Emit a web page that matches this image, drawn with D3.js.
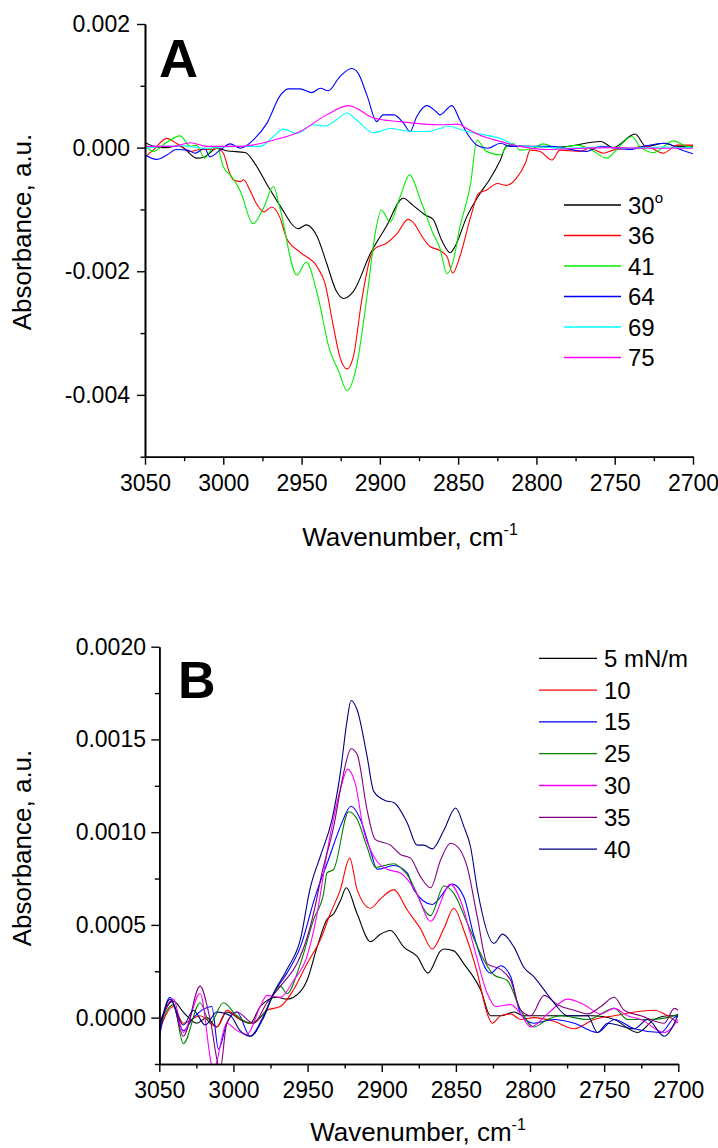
<!DOCTYPE html>
<html>
<head>
<meta charset="utf-8">
<script src="https://cdn.jsdelivr.net/npm/d3@7"></script>
<style>
  body { margin: 0; background: #fff; }
  svg { display: block; font-family: "Liberation Sans", Arial, sans-serif; }
</style>
</head>
<body>
<svg id="fig" width="718" height="1148"></svg>
<script>
// ---------- Panel A: spectra vs. angle, [wavenumber, absorbance] ----------
const a30 = [[3050,0.00008],[3044,0.00002],[3037,0],[3028,0.00003],[3017,-0.00017],[3012,-0.00015],[3004,-0.00001],[2998,-0.00005],[2986,-0.00008],[2980,-0.00025],[2972,-0.0006],[2964,-0.00093],[2952,-0.00131],[2947,-0.00125],[2940,-0.00144],[2934,-0.00187],[2928,-0.00231],[2923,-0.00244],[2917,-0.00233],[2906,-0.00171],[2896,-0.00128],[2885,-0.00082],[2879,-0.00093],[2871,-0.00109],[2866,-0.00116],[2860.5,-0.0015],[2855,-0.0017],[2852,-0.0016],[2844.5,-0.00112],[2836,-0.00074],[2830,-0.00052],[2823,-0.0002],[2819,0.00003],[2806,0.00002],[2785,0.00001],[2759,0.0001],[2751,0],[2737,0.00022],[2730,0.00002],[2719,0.00007],[2710,0.00002],[2700,0.00002]];
const a36 = [[3050,-0.00015],[3044.7,-0.00004],[3036,0.00015],[3030,0.00007],[3021,-0.00006],[3015,-0.00003],[3007,-0.00003],[3004,-0.00001],[3000,-0.00009],[2996,-0.00041],[2993.6,-0.00052],[2989,-0.00055],[2987,-0.00052],[2983,-0.00069],[2979,-0.0009],[2974,-0.00104],[2969,-0.00096],[2964,-0.00112],[2959.5,-0.00147],[2951,-0.00169],[2940,-0.00193],[2935,-0.0022],[2930,-0.00285],[2925.5,-0.00339],[2921,-0.00358],[2917,-0.00339],[2911.6,-0.00247],[2906,-0.00177],[2903,-0.00163],[2896,-0.00155],[2889,-0.00139],[2882,-0.00116],[2879,-0.0012],[2873,-0.00144],[2868,-0.0016],[2862,-0.00166],[2857,-0.00177],[2853.5,-0.00203],[2849,-0.00177],[2842,-0.00112],[2837,-0.00074],[2832,-0.00069],[2825,-0.00058],[2819,-0.00061],[2813,-0.0005],[2807,-0.00025],[2804,-0.00004],[2798,-0.00006],[2790,-0.0002],[2785,-0.00004],[2772,-0.00006],[2766,-0.00001],[2757,-0.00009],[2751,-0.00004],[2740,-0.00001],[2730,0.00002],[2719,-0.00009],[2710,0.00004],[2700,0.00004]];
const a41 = [[3050,0.00004],[3044.7,-0.00006],[3037,0.00007],[3027.6,0.00019],[3021,0.00002],[3017,0.00004],[3012,-0.00017],[3007,-0.00001],[3004,0.00002],[3000,-0.00031],[2994.6,-0.00047],[2989,-0.00071],[2981,-0.00123],[2974,-0.00096],[2968,-0.00063],[2964,-0.00096],[2953,-0.00206],[2947,-0.00185],[2940,-0.00236],[2932,-0.00328],[2926.5,-0.0036],[2921,-0.00393],[2915,-0.00355],[2908,-0.00236],[2903,-0.00139],[2899,-0.00101],[2893.5,-0.0012],[2887,-0.00079],[2881,-0.00044],[2874,-0.00085],[2866,-0.00139],[2862,-0.0016],[2857,-0.00204],[2853,-0.00182],[2849,-0.0013],[2842,-0.00058],[2838,0.00012],[2832,-0.00006],[2823,-0.00012],[2819,0.00002],[2815,0.00007],[2810.5,-0.00004],[2802,-0.00001],[2795.6,0.00006],[2787,-0.00001],[2774,0.00004],[2766,-0.00002],[2755,-0.00017],[2747,0.00002],[2739,0.00018],[2734,0.00002],[2725,-0.00008],[2712.6,0.00011],[2704,0.00002],[2700,0.00001]];
const a64 = [[3050,-0.00012],[3042.5,-0.00019],[3036,-0.00012],[3030,-0.00003],[3023,-0.00004],[3018,-0.00009],[3012,-0.00001],[3008.5,-0.00015],[3002,-0.00004],[2995.7,0.00006],[2989,-0.00001],[2981,0.00012],[2972,0.0004],[2964,0.00083],[2958.5,0.00095],[2951,0.00095],[2943.5,0.00089],[2938,0.00096],[2933,0.00092],[2925.5,0.00115],[2918,0.00128],[2914,0.00121],[2908,0.00083],[2902,0.00042],[2898,0.00053],[2891,0.00053],[2885,0.0004],[2880.7,0.00026],[2876.5,0.0005],[2870,0.00068],[2864,0.00058],[2861.6,0.00053],[2854,0.00068],[2849,0.00045],[2843.5,0.0002],[2838,0.00004],[2831,-0.00001],[2823,0.00007],[2817,0.00002],[2806,0.00002],[2791,0.00002],[2776,-0.00004],[2768,-0.00006],[2759,0.00002],[2749,-0.00001],[2740,-0.00003],[2730,0.00003],[2717,0.00007],[2710,-0.00001],[2700,-0.0001]];
const a69 = [[3050,-0.00001],[3040,0.00002],[3027.6,0.00003],[3010.6,-0.00001],[2993.6,0.00002],[2976.5,0.00002],[2968,0.00018],[2961.7,0.0003],[2953,0.00023],[2942.5,0.00037],[2935,0.00035],[2927.6,0.00045],[2921,0.00056],[2915,0.00045],[2904,0.00024],[2893.5,0.00031],[2883,0.00027],[2870,0.00026],[2861.6,0.00031],[2857,0.00035],[2844.5,0.00026],[2833.9,0.00021],[2823.3,0.00015],[2810.5,0.00002],[2795,0.00001],[2780,-0.00001],[2760,0.00001],[2740,-0.00001],[2720,0.00001],[2700,0]];
const a75 = [[3050,0.00002],[3032,0.00002],[3021,0.00008],[3010.6,0.00002],[2990,0.00002],[2968,0.00012],[2951,0.00026],[2934,0.00053],[2920,0.00068],[2904,0.00048],[2887,0.00042],[2862,0.00037],[2850,0.00038],[2844.5,0.00031],[2836,0.0002],[2823,0.0001],[2810.5,0.00002],[2793,-0.00003],[2770,-0.00001],[2750,0],[2730,-0.00001],[2700,-0.00001]];

const seriesAValues = [a30, a36, a41, a64, a69, a75];
const seriesALabels = ["30", "36", "41", "64", "69", "75"];
const seriesAColors = ["#000000", "#ff0000", "#00ee00", "#0000ff", "#00ffff", "#ff00ff"];

// ---------- Panel B: spectra vs. surface pressure ----------
const b5 = [[3050,-0.00003],[3040.5,0.00009],[3033.8,0.00003],[3024.7,-0.00003],[3018,0],[3011.2,-0.00005],[3004.5,0.00003],[2995.5,-0.00001],[2988.7,-0.00003],[2981.9,0.00006],[2970.7,0.00011],[2963.9,0.0001],[2954.9,0.00014],[2950.4,0.0002],[2943.6,0.00038],[2936.9,0.00053],[2932.4,0.00056],[2927.9,0.00063],[2923.9,0.0007],[2916.6,0.00056],[2907.6,0.00041],[2900.9,0.00045],[2894.1,0.00047],[2885.1,0.00038],[2876.1,0.00033],[2868.9,0.00024],[2860.3,0.00036],[2858.1,0.00037],[2851.4,0.00036],[2844.6,0.00029],[2833.3,0.00015],[2826.6,0.00001],[2819.8,0.00001],[2810.8,0.00003],[2804.1,0.00001],[2792.8,0.00001],[2779.3,0.00001],[2756.8,0.00001],[2743.2,-0.00001],[2727.4,-0.00008],[2716.2,-0.00001],[2707.2,0.00001],[2700,0.00001]];
const b10 = [[3050,-0.00007],[3040.5,0.00006],[3033.8,-0.00003],[3022.5,0.00001],[3011.2,-0.00005],[3004.5,0.00004],[2995.5,-0.00001],[2986.5,-0.00003],[2977.4,0.00004],[2968.4,0.00006],[2959.5,0.00015],[2950.4,0.00029],[2941.4,0.00042],[2934.7,0.00056],[2927.9,0.00069],[2921.6,0.00086],[2916.6,0.00069],[2907.6,0.00059],[2900.9,0.00064],[2891.9,0.00069],[2882.8,0.00058],[2873.9,0.00048],[2865.9,0.00037],[2858.1,0.00048],[2851.4,0.00059],[2844.6,0.00047],[2835.5,0.00024],[2828.8,0.00002],[2825.4,-0.00003],[2819.8,0.00001],[2813,0.00002],[2806.3,-0.00001],[2797.3,0],[2783.8,-0.00002],[2770.3,-0.00006],[2756.8,-0.00001],[2743.2,0.00001],[2729.7,0.00003],[2716.2,0.00004],[2707.2,0.00001],[2700,-0.00003]];
const b15 = [[3050,-0.00011],[3042.8,0.00011],[3033.8,-0.00007],[3027,0],[3014.6,0.00006],[3010.1,-0.00017],[3004.5,-0.00003],[2997.7,0.00003],[2988.7,-0.0001],[2979.7,0.00001],[2973,0.00013],[2963.9,0.00024],[2954.9,0.00038],[2945,0.00065],[2936,0.00085],[2927.9,0.00103],[2920.7,0.00114],[2914.4,0.00107],[2907.6,0.0009],[2903.1,0.0008],[2891.9,0.00082],[2882.8,0.00078],[2878.4,0.00069],[2865.9,0.00061],[2852.4,0.00072],[2844.6,0.00065],[2837.8,0.00044],[2826.6,0.00024],[2819.8,0.00028],[2813,0.00022],[2806.3,0.00002],[2797.3,-0.00003],[2783.8,-0.00001],[2770.3,-0.00003],[2754.5,-0.00008],[2743.2,-0.00001],[2729.7,-0.00006],[2711.7,-0.00008],[2702.7,0],[2700,0.00001]];
const b25 = [[3050,-0.00005],[3040.5,0.00007],[3033.8,-0.00014],[3022.5,0.00008],[3015.7,-0.00003],[3006.8,0.00008],[2997.7,0.00001],[2988.7,-0.00003],[2979.7,0.00002],[2968.4,0.00017],[2963.9,0.00013],[2954.9,0.00029],[2945.9,0.00053],[2939.2,0.00067],[2936.9,0.00078],[2932.4,0.0008],[2922.3,0.00111],[2916.6,0.00107],[2909.9,0.00092],[2904.3,0.00081],[2891.9,0.00083],[2882.8,0.00077],[2867.1,0.00055],[2858.1,0.00071],[2851.4,0.00067],[2842.3,0.00051],[2831.1,0.00031],[2824.3,0.00023],[2815.3,0.0002],[2806.3,0.00004],[2797.3,-0.00005],[2788.2,-0.00001],[2779.3,0.00001],[2761.2,-0.00001],[2743.2,0.00005],[2734.2,-0.00001],[2720.7,-0.00001],[2707.2,0],[2700,0.00002]];
const b30 = [[3050,-0.00005],[3040.5,0.0001],[3033.8,-0.00008],[3022.5,0.00013],[3013.5,-0.00028],[3004.5,-0.00003],[2997.7,-0.00007],[2990.9,-0.00009],[2981.9,0.00006],[2977.4,0.00012],[2968.4,0.00011],[2959.5,0.0002],[2950.4,0.00033],[2943.6,0.00056],[2936.9,0.00089],[2927.9,0.00123],[2923,0.00134],[2917.8,0.00126],[2912.2,0.00101],[2905.4,0.00087],[2896.4,0.0008],[2887.4,0.00078],[2877,0.00068],[2867.1,0.00052],[2853.6,0.00072],[2846.8,0.00063],[2837.8,0.00038],[2828.8,0.00013],[2823.2,0.00006],[2813,0.00007],[2806.3,0.00002],[2799.5,-0.00005],[2788.2,0.00002],[2774.7,0.0001],[2763.5,0.00007],[2752.2,0.00002],[2743.2,0.00005],[2734.2,0.00001],[2725.2,-0.00001],[2709.5,-0.00008],[2700,-0.00001]];
const b35 = [[3050,-0.00005],[3041.6,0.00009],[3033.8,-0.0001],[3022.5,0.00017],[3015.7,-0.00001],[3009,-0.00028],[3004.5,-0.00003],[2997.7,0.00003],[2986.5,-0.00003],[2977.4,0.00008],[2966.2,0.00019],[2957.2,0.00029],[2948.2,0.00049],[2943.6,0.00065],[2941.4,0.00074],[2932.4,0.00103],[2925.7,0.00132],[2920.7,0.00145],[2916.6,0.00142],[2909.9,0.00112],[2904.3,0.00096],[2894.1,0.00093],[2887.4,0.00088],[2880.6,0.00086],[2873.9,0.00076],[2867.1,0.0007],[2860.3,0.00085],[2853.6,0.00094],[2846.8,0.0009],[2842.3,0.00081],[2835.5,0.00054],[2828.8,0.00029],[2819.8,0.00026],[2813,0.0002],[2806.3,0.00004],[2799.5,0.00001],[2790.5,0.00012],[2781.5,0.00007],[2770.3,0.00004],[2761.2,0.00002],[2752.2,0.00006],[2743.2,0.00011],[2736.5,0.00004],[2725.2,0.00001],[2709.5,-0.00003],[2702.7,0.00005],[2700,0.00004]];
const b40 = [[3050,-0.00007],[3042.8,0.0001],[3033.8,-0.00004],[3027,0.00004],[3019,-0.00004],[3011.2,0.00003],[3002,0.00001],[2995.5,-0.00007],[2988.7,-0.0001],[2979.7,0],[2973,0.00013],[2963.9,0.00026],[2954.9,0.00042],[2948.2,0.0007],[2941.4,0.00087],[2933.5,0.00107],[2927.9,0.00132],[2923.4,0.0016],[2920.7,0.00171],[2916.6,0.00166],[2909.9,0.00141],[2905.4,0.00122],[2897.5,0.00117],[2891.9,0.00116],[2882.8,0.00105],[2876.1,0.00093],[2871.6,0.00093],[2865.9,0.00091],[2858.1,0.00101],[2850.2,0.00113],[2844.6,0.00103],[2840.1,0.00092],[2835.5,0.00069],[2824.3,0.0004],[2818.6,0.00045],[2810.8,0.00038],[2804.1,0.00027],[2797.3,0.00022],[2790.5,0.00015],[2783.8,0.00008],[2774.7,0.00001],[2761.2,0.00001],[2754.5,-0.00008],[2747.7,-0.00003],[2729.7,-0.00006],[2720.7,-0.00001],[2709.5,-0.0001],[2700.4,0.00001]];

const seriesBValues = [b5, b10, b15, b25, b30, b35, b40];
const seriesBLabels = ["5 mN/m", "10", "15", "25", "30", "35", "40"];
const seriesBColors = ["#000000", "#ff0000", "#0000ff", "#008000", "#ff00ff", "#800080", "#000080"];

// ---------- Axis ticks ----------
const xMajorTicks = [3050, 3000, 2950, 2900, 2850, 2800, 2750, 2700];
const xMinorTicks = [3025, 2975, 2925, 2875, 2825, 2775, 2725];
const aYMajorTicks = [-0.004, -0.002, 0, 0.002];
const aYMinorTicks = [-0.005, -0.003, -0.001, 0.001];
const bYMajorTicks = [0, 0.0005, 0.001, 0.0015, 0.002];
const bYMinorTicks = [-0.00025, 0.00025, 0.00075, 0.00125, 0.00175];

const svg = d3.select("#fig");

function drawPanel(cfg) {
  const x = d3.scaleLinear().domain([3050, 2700]).range([cfg.left, cfg.right]);
  const y = d3.scaleLinear().domain(cfg.yDomain).range([cfg.bottom, cfg.top]);
  const g = svg.append("g");

  const clipId = "clip-" + cfg.id;
  svg.append("defs").append("clipPath").attr("id", clipId)
    .append("rect")
    .attr("x", cfg.left).attr("y", cfg.top)
    .attr("width", cfg.right - cfg.left).attr("height", cfg.bottom - cfg.top);

  // spectra
  const line = d3.line()
    .x(d => x(d[0]))
    .y(d => y(d[1]))
    .curve(d3.curveMonotoneX);
  const lines = g.append("g").attr("clip-path", `url(#${clipId})`);
  cfg.values.forEach((s, i) => {
    lines.append("path")
      .attr("d", line(s))
      .attr("fill", "none")
      .attr("stroke", cfg.colors[i])
      .attr("stroke-width", 1.1)
      .attr("stroke-linejoin", "round");
  });

  // x axis
  const xAxis = g.append("g").attr("transform", `translate(0,${cfg.bottom})`);
  xAxis.call(d3.axisBottom(x).tickValues(xMinorTicks).tickSize(4.5).tickSizeOuter(0).tickFormat(""));
  xAxis.append("g").call(d3.axisBottom(x).tickValues(xMajorTicks).tickSize(8).tickSizeOuter(0)
    .tickPadding(10).tickFormat(d3.format("d")));
  // y axis
  const yAxis = g.append("g").attr("transform", `translate(${cfg.left},0)`);
  yAxis.call(d3.axisLeft(y).tickValues(cfg.yMinor).tickSize(4.5).tickSizeOuter(0).tickFormat(""));
  yAxis.append("g").call(d3.axisLeft(y).tickValues(cfg.yMajor).tickSize(8).tickSizeOuter(0)
    .tickPadding(cfg.yPad).tickFormat(d => d.toFixed(cfg.digits)));

  g.selectAll(".domain").attr("stroke", "#000").attr("stroke-width", 1.6);
  g.selectAll(".tick line").attr("stroke", "#000").attr("stroke-width", 1.4);
  g.selectAll(".tick text").attr("font-size", 23).attr("fill", "#000")
    .attr("font-family", "'Liberation Sans', Arial, sans-serif");

  // axis titles
  const xt = g.append("text")
    .attr("x", cfg.xTitleX).attr("y", cfg.xTitleY)
    .attr("text-anchor", "middle").attr("font-size", 26).attr("fill", "#000");
  xt.append("tspan").text("Wavenumber, cm");
  xt.append("tspan").attr("font-size", 16).attr("dy", -11).text("-1");

  g.append("text")
    .attr("transform", `translate(${cfg.yTitleX},${cfg.yTitleY}) rotate(-90)`)
    .attr("text-anchor", "middle").attr("font-size", 26).attr("fill", "#000")
    .text("Absorbance, a.u.");

  // panel letter
  g.append("text")
    .attr("x", cfg.letterX).attr("y", cfg.letterY)
    .attr("font-size", cfg.letterSize).attr("font-weight", "bold").attr("fill", "#000")
    .text(cfg.id);

  // legend
  const lg = g.append("g");
  cfg.labels.forEach((lab, i) => {
    const ly = cfg.legendY + i * cfg.legendStep;
    lg.append("line")
      .attr("x1", cfg.legendX).attr("x2", cfg.legendX + cfg.legendLen)
      .attr("y1", ly).attr("y2", ly)
      .attr("stroke", cfg.colors[i]).attr("stroke-width", 1.3);
    const t = lg.append("text")
      .attr("x", cfg.legendX + cfg.legendLen + 7).attr("y", ly + 8.5)
      .attr("font-size", 24).attr("fill", "#000");
    t.append("tspan").text(lab);
    if (cfg.degree && i === 0) {
      t.append("tspan").attr("font-size", 15).attr("dy", -11).text("o");
    }
  });
}

drawPanel({
  id: "A", left: 145, right: 693, top: 24, bottom: 456.7,
  yDomain: [-0.005, 0.002], yMajor: aYMajorTicks, yMinor: aYMinorTicks, yPad: 7, digits: 3,
  values: seriesAValues, colors: seriesAColors, labels: seriesALabels, degree: true,
  xTitleX: 410, xTitleY: 546, yTitleX: 31, yTitleY: 232,
  letterX: 159, letterY: 77, letterSize: 54,
  legendX: 564, legendLen: 57, legendY: 205, legendStep: 30.5
});

drawPanel({
  id: "B", left: 159.3, right: 678.3, top: 646.7, bottom: 1064,
  yDomain: [-0.00025, 0.002], yMajor: bYMajorTicks, yMinor: bYMinorTicks, yPad: 5.3, digits: 4,
  values: seriesBValues, colors: seriesBColors, labels: seriesBLabels, degree: false,
  xTitleX: 418, xTitleY: 1141, yTitleX: 31, yTitleY: 848,
  letterX: 178, letterY: 698, letterSize: 52,
  legendX: 539, legendLen: 58, legendY: 658.3, legendStep: 31.8
});
</script>
</body>
</html>
